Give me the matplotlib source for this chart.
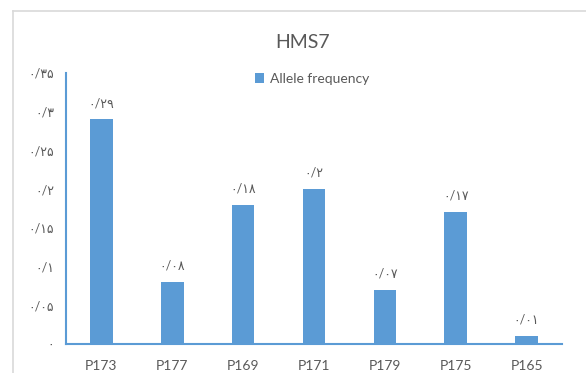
import matplotlib
matplotlib.use("Agg")
import matplotlib.pyplot as plt
from matplotlib.lines import Line2D

# Allele frequencies at the HMS7 locus
alleles = ["P173", "P177", "P169", "P171", "P179", "P175", "P165"]
frequency = [0.29, 0.08, 0.18, 0.2, 0.07, 0.17, 0.01]
y_ticks = [0, 0.05, 0.1, 0.15, 0.2, 0.25, 0.3, 0.35]

FONT = ["Lato", "DejaVu Sans"]
BAR = "#5B9BD5"
TEXT = "#595959"
PERSIAN = str.maketrans("0123456789.", "۰۱۲۳۴۵۶۷۸۹/")


def fa(v):
    s = f"{v:.2f}".rstrip("0").rstrip(".")
    if s == "":
        s = "0"
    return s.translate(PERSIAN)


W, H = 586, 373
fig = plt.figure(figsize=(W / 100, H / 100), dpi=100)

# chart-area border (top and left edges)
fig.add_artist(Line2D([13 / W, 13 / W], [0, 1 - 11 / H], transform=fig.transFigure,
                      color="#D9D9D9", lw=1.2))
fig.add_artist(Line2D([13 / W, 1], [1 - 11 / H, 1 - 11 / H], transform=fig.transFigure,
                      color="#D9D9D9", lw=1.2))

ax = fig.add_axes([66 / W, 1 - 344 / H, (562 - 66) / W, (344 - 73) / H])
x = range(len(alleles))
bars = ax.bar(x, frequency, width=0.32, color=BAR, label="Allele frequency", zorder=2)

ax.set_xlim(-0.5, len(alleles) - 0.5)
ax.set_ylim(0, 0.35)
ax.set_yticks(y_ticks)
ax.set_yticklabels([fa(t) for t in y_ticks], family=FONT, fontsize=9, color=TEXT)
ax.set_xticks(list(x))
ax.set_xticklabels(alleles, family=FONT, fontsize=10, color=TEXT)
ax.tick_params(axis="both", length=0)
ax.tick_params(axis="y", pad=8.5)
ax.tick_params(axis="x", pad=11.5)

for side in ("top", "right"):
    ax.spines[side].set_visible(False)
for side in ("left", "bottom"):
    ax.spines[side].set_color(BAR)
    ax.spines[side].set_linewidth(1.5)

for b, v in zip(bars, frequency):
    ax.annotate(fa(v), (b.get_x() + b.get_width() / 2, v), xytext=(0, 7.5),
                textcoords="offset points", ha="center", va="bottom",
                family=FONT, fontsize=9, color=TEXT)

fig.text(303 / W, 1 - 42 / H, "HMS7", ha="center", va="center",
         family=FONT, fontsize=14, color=TEXT)
fig.legend(handles=[bars], labels=["Allele frequency"], loc="center",
           bbox_to_anchor=(312 / W, 1 - 79 / H), frameon=False,
           prop={"family": FONT, "size": 10}, labelcolor=TEXT,
           handlelength=0.7, handleheight=0.7, handletextpad=0.4)

fig.savefig("out.png", dpi=100, facecolor="white")
